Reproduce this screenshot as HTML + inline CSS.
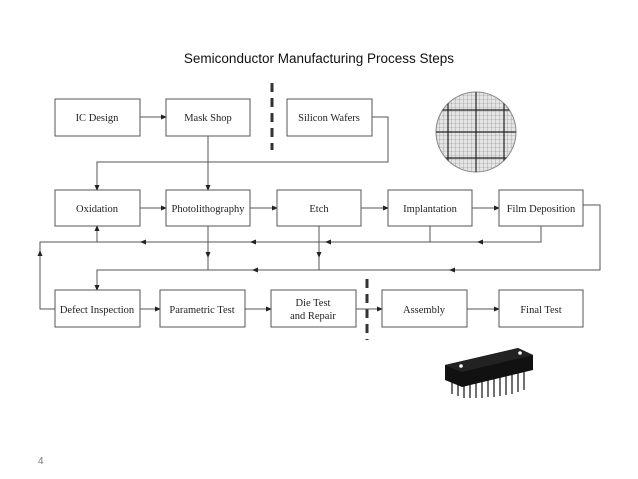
<!DOCTYPE html>
<html><head><meta charset="utf-8"><style>
html,body{margin:0;padding:0;background:#fff;}
svg{display:block}
.b{fill:#fff;stroke:#555;stroke-width:1}
.t{font-family:"Liberation Serif",serif;font-size:10.5px;fill:#222;text-anchor:middle}
.l{stroke:#555;stroke-width:1;fill:none}
</style></head><body>
<svg width="638" height="479" viewBox="0 0 638 479" xmlns="http://www.w3.org/2000/svg">
<defs>
<marker id="a" markerWidth="6" markerHeight="6" refX="5" refY="3" orient="auto" markerUnits="userSpaceOnUse"><path d="M0,0.5 L6,3 L0,5.5z" fill="#222"/></marker>
<pattern id="g" width="4" height="4" patternUnits="userSpaceOnUse"><path d="M4,0 V4 M0,4 H4" stroke="#888" stroke-width="0.6" fill="none"/></pattern>
<clipPath id="c"><circle cx="476" cy="132" r="40"/></clipPath>
</defs>
<text x="319" y="63" font-family="Liberation Sans,sans-serif" font-size="13.5" text-anchor="middle" fill="#111">Semiconductor Manufacturing Process Steps</text>
<text x="38" y="464" font-family="Liberation Sans,sans-serif" font-size="10" fill="#777">4</text>

<line x1="272" y1="83" x2="272" y2="150" stroke="#333" stroke-width="3" stroke-dasharray="9,6"/>
<line x1="367" y1="279" x2="367" y2="340" stroke="#333" stroke-width="3" stroke-dasharray="9,6"/>

<line class="l" x1="140" y1="117" x2="166" y2="117" marker-end="url(#a)"/>
<polyline class="l" points="372,117 388,117 388,162 97,162 97,190" marker-end="url(#a)"/>
<line class="l" x1="208" y1="136" x2="208" y2="190" marker-end="url(#a)"/>
<line class="l" x1="140" y1="208" x2="166" y2="208" marker-end="url(#a)"/>
<line class="l" x1="250" y1="208" x2="277" y2="208" marker-end="url(#a)"/>
<line class="l" x1="361" y1="208" x2="388" y2="208" marker-end="url(#a)"/>
<line class="l" x1="472" y1="208" x2="499" y2="208" marker-end="url(#a)"/>
<polyline class="l" points="541,226 541,242 97,242"/>
<line class="l" x1="430" y1="226" x2="430" y2="242"/>
<line class="l" x1="97" y1="242" x2="97" y2="226" marker-end="url(#a)"/>
<line class="l" x1="500" y1="242" x2="478" y2="242" marker-end="url(#a)"/>
<line class="l" x1="360" y1="242" x2="326" y2="242" marker-end="url(#a)"/>
<line class="l" x1="270" y1="242" x2="251" y2="242" marker-end="url(#a)"/>
<line class="l" x1="160" y1="242" x2="141" y2="242" marker-end="url(#a)"/>
<polyline class="l" points="55,309 40,309 40,242 97,242"/>
<line class="l" x1="40" y1="270" x2="40" y2="251" marker-end="url(#a)"/>
<line class="l" x1="208" y1="226" x2="208" y2="270"/>
<line class="l" x1="208" y1="226" x2="208" y2="257" marker-end="url(#a)"/>
<line class="l" x1="319" y1="226" x2="319" y2="270"/>
<line class="l" x1="319" y1="226" x2="319" y2="257" marker-end="url(#a)"/>
<polyline class="l" points="583,205 600,205 600,270 97,270 97,290" marker-end="url(#a)"/>
<line class="l" x1="470" y1="270" x2="450" y2="270" marker-end="url(#a)"/>
<line class="l" x1="280" y1="270" x2="253" y2="270" marker-end="url(#a)"/>
<line class="l" x1="140" y1="309" x2="160" y2="309" marker-end="url(#a)"/>
<line class="l" x1="245" y1="309" x2="271" y2="309" marker-end="url(#a)"/>
<line class="l" x1="356" y1="309" x2="382" y2="309" marker-end="url(#a)"/>
<line class="l" x1="467" y1="309" x2="499" y2="309" marker-end="url(#a)"/>

<rect class="b" x="55" y="99" width="85" height="37"/><text class="t" x="97" y="121">IC Design</text>
<rect class="b" x="166" y="99" width="84" height="37"/><text class="t" x="208" y="121">Mask Shop</text>
<rect class="b" x="287" y="99" width="85" height="37"/><text class="t" x="329" y="121">Silicon Wafers</text>
<rect class="b" x="55" y="190" width="85" height="36"/><text class="t" x="97" y="212">Oxidation</text>
<rect class="b" x="166" y="190" width="84" height="36"/><text class="t" x="208" y="212">Photolithography</text>
<rect class="b" x="277" y="190" width="84" height="36"/><text class="t" x="319" y="212">Etch</text>
<rect class="b" x="388" y="190" width="84" height="36"/><text class="t" x="430" y="212">Implantation</text>
<rect class="b" x="499" y="190" width="84" height="36"/><text class="t" x="541" y="212">Film Deposition</text>
<rect class="b" x="55" y="290" width="85" height="37"/><text class="t" x="97" y="313">Defect Inspection</text>
<rect class="b" x="160" y="290" width="85" height="37"/><text class="t" x="202" y="313">Parametric Test</text>
<rect class="b" x="271" y="290" width="85" height="37"/><text class="t" x="313" y="306">Die Test</text><text class="t" x="313" y="319">and Repair</text>
<rect class="b" x="382" y="290" width="85" height="37"/><text class="t" x="424" y="313">Assembly</text>
<rect class="b" x="499" y="290" width="84" height="37"/><text class="t" x="541" y="313">Final Test</text>

<circle cx="476" cy="132" r="40" fill="#e4e4e4" stroke="#888"/>
<g clip-path="url(#c)">
<rect x="436" y="92" width="80" height="80" fill="url(#g)"/>
<path d="M476,90 V175 M436,132 H518 M448,100 V170 M504,100 V170 M440,110 H512 M440,158 H512" stroke="#222" stroke-width="1.2"/>
</g>
<g stroke="#222" stroke-width="1.3">
<path d="M452,380 V394 M458,378 V396 M464,377 V398 M470,376 V398 M476,375 V398 M482,373 V398 M488,372 V397 M494,371 V397 M500,369 V396 M506,368 V395 M512,366 V394 M518,365 V392 M524,364 V390"/>
</g>
<polygon points="445,365 518,348 533,355 533,370 462,387 445,380" fill="#111"/>
<polygon points="445,365 518,348 533,355 462,372" fill="#222"/>
<circle cx="461" cy="366" r="1.8" fill="#fff"/><circle cx="520" cy="353" r="1.8" fill="#fff"/>
</svg>
</body></html>
